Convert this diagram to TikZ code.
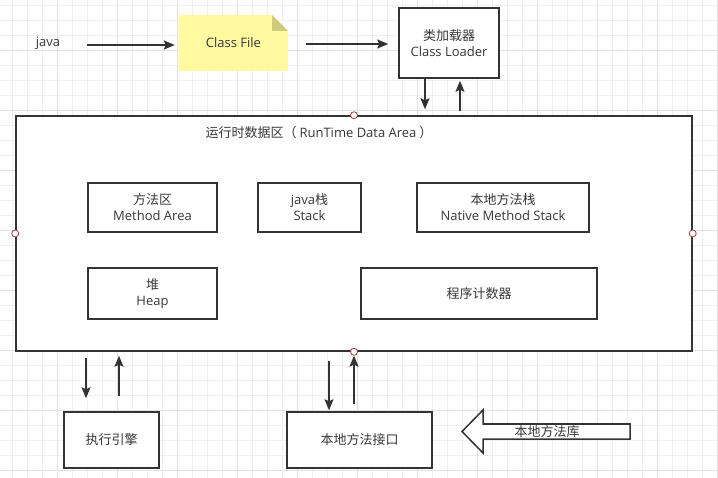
\documentclass[tikz,border=0pt]{standalone}
\usepackage{fontspec}
\setmainfont{Open Sans}
\newfontfamily\cjk{Noto Sans CJK SC}
\usepackage{tikz}
\usetikzlibrary{arrows.meta}
\definecolor{gridminor}{RGB}{240,240,240}
\definecolor{gridmajor}{RGB}{226,226,226}
\definecolor{notefill}{RGB}{255,250,160}
\definecolor{notefold}{RGB}{206,204,122}
\definecolor{linedark}{RGB}{51,51,51}
\definecolor{textgrey}{RGB}{55,55,55}
\definecolor{portred}{RGB}{170,60,60}

\begin{document}
\begin{tikzpicture}[x=1pt,y=-1pt,
  box/.style={draw=linedark,line width=1.5pt,fill=white,text=textgrey,align=center,
    font=\fontsize{13}{16}\selectfont,inner sep=0pt},
  txt/.style={text=textgrey,font=\fontsize{13}{16}\selectfont,inner sep=0pt},
  flow/.style={draw=linedark,line width=1.5pt,-{Stealth[length=11pt,width=9pt,inset=2pt]}},
  port/.style={circle,draw=portred,fill=white,line width=0.8pt,minimum size=7pt,inner sep=0pt}]
\useasboundingbox (0,0) rectangle (718,478);
% grid
\foreach \x in {12,27,...,717} \draw[gridminor] (\x,0) -- (\x,478);
\foreach \y in {5,20,...,477} \draw[gridminor] (0,\y) -- (718,\y);
\foreach \x in {57,117,...,717} \draw[gridmajor] (\x,0) -- (\x,478);
\foreach \y in {50,110,...,477} \draw[gridmajor] (0,\y) -- (718,\y);

% top row
\node (java) [txt] at (48,43) {java};
\fill[notefill] (179,15) -- (272,15) -- (288,31) -- (288,71) -- (179,71) -- cycle;
\fill[notefold] (272,15) -- (288,31) -- (272,31) -- cycle;
\node (classfile) [txt,minimum width=109pt,minimum height=56pt] at (233.5,43) {Class File};
\node (loader) [box,minimum width=100pt,minimum height=70pt] at (449,43) {{\cjk 类加载器}\\Class Loader};

% runtime data area
\node (rtda) [box,minimum width=676pt,minimum height=235pt] at (354,233.5) {};
\node (rtdatitle) [txt] at (319,133) {{\cjk 运行时数据区（}\kern3pt RunTime Data Area\kern3pt{\cjk ）}};
\node (method) [box,minimum width=129pt,minimum height=49pt] at (152.5,207.5) {{\cjk 方法区}\\Method Area};
\node (stack) [box,minimum width=103pt,minimum height=49pt] at (309.5,207.5) {java{\cjk 栈}\\Stack};
\node (native) [box,minimum width=172pt,minimum height=49pt] at (503,207.5) {{\cjk 本地方法栈}\\Native Method Stack};
\node (heap) [box,minimum width=129pt,minimum height=51pt] at (152.5,293.5) {{\cjk 堆}\\Heap};
\node (pc) [box,minimum width=236pt,minimum height=51pt] at (479,293.5) {\cjk 程序计数器};

% bottom row
\node (engine) [box,minimum width=95pt,minimum height=56pt] at (111.5,440) {\cjk 执行引擎};
\node (nif) [box,minimum width=145pt,minimum height=56pt] at (359.5,440) {\cjk 本地方法接口};
\draw[linedark,line width=1.5pt,fill=white] (630,424) -- (483,424) -- (483,410) -- (462,431.5)
  -- (483,453) -- (483,439) -- (630,439) -- cycle;
\node (nlib) [txt] at (547,432) {\cjk 本地方法库};

% arrows
\draw[flow,shorten <=27pt,shorten >=4pt] ([yshift=-2pt]java.east) -- ([yshift=-2pt]classfile.west);
\draw[flow,shorten <=18pt,shorten >=10pt] ([yshift=-1pt]classfile.east) -- ([yshift=-1pt]loader.west);
\draw[flow,shorten >=6pt] ([xshift=-24pt]loader.south) -- ([xshift=-24pt]loader.south |- rtda.north);
\draw[flow,shorten <=4pt,shorten >=2pt] ([xshift=11pt]loader.south |- rtda.north) -- ([xshift=11pt]loader.south);
\draw[flow,shorten <=6pt,shorten >=13pt] ([xshift=-25.5pt]engine.north |- rtda.south) -- ([xshift=-25.5pt]engine.north);
\draw[flow,shorten <=15pt,shorten >=4pt] ([xshift=7.5pt]engine.north) -- ([xshift=7.5pt]engine.north |- rtda.south);
\draw[flow,shorten <=9pt,shorten >=1pt] ([xshift=-30.5pt]nif.north |- rtda.south) -- ([xshift=-30.5pt]nif.north);

% ports
\node (pn) [port] at (rtda.north) {};
\node (pw) [port] at (rtda.west) {};
\node (pe) [port] at (rtda.east) {};
\node (ps) [port] at (rtda.south) {};
\draw[flow,shorten <=7pt] (ps.south |- nif.north) -- (ps.south);
\end{tikzpicture}
\end{document}
